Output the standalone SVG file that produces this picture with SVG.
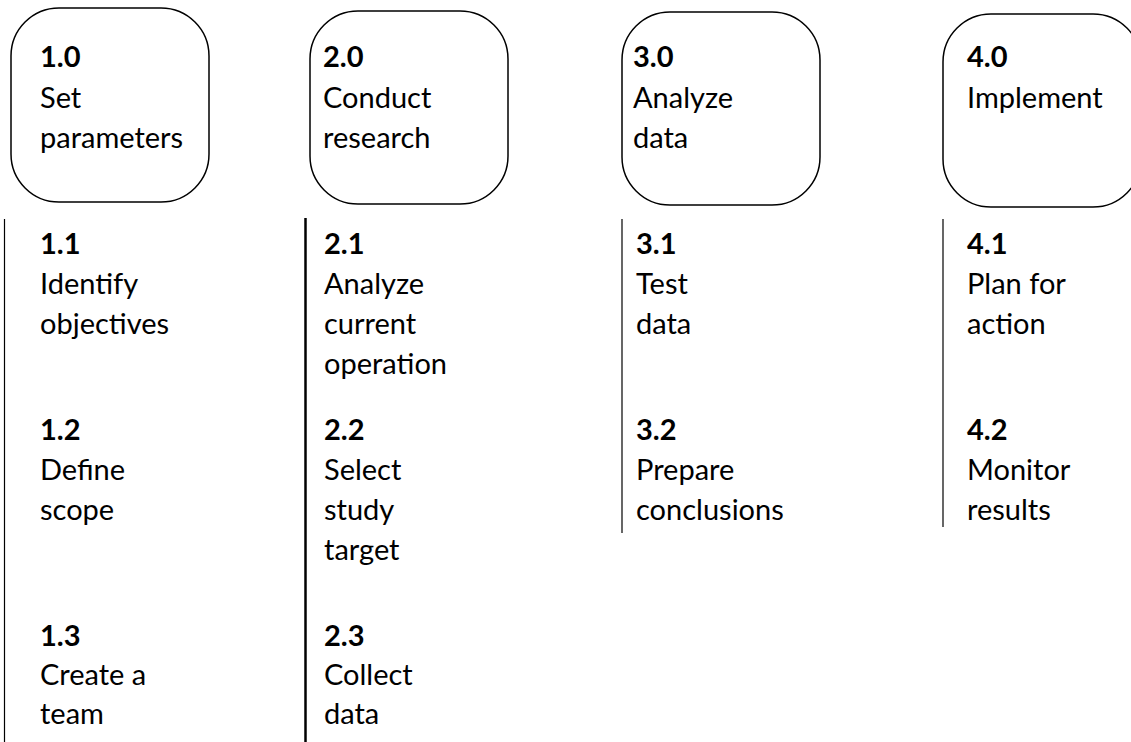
<svg xmlns="http://www.w3.org/2000/svg" width="1131" height="742" viewBox="0 0 1131 742">
  <style>
    .box { fill: #ffffff; stroke: #000000; stroke-width: 1.5; }
    .rule { stroke: #000000; stroke-width: 1.2; fill: none; }
    .rule.heavy { stroke-width: 2.5; }
    text { font-family: Lato, "Liberation Sans", sans-serif; font-size: 29px; fill: #000000; }
    .num { font-weight: 700; }
  </style>
  <rect width="1131" height="742" fill="#ffffff"/>

  <!-- phase headers -->
  <g id="phase-1">
    <rect class="box" x="11" y="8" width="198" height="194" rx="48" ry="48"/>
    <text x="40" y="67" class="num">1.0</text>
    <text x="40" y="108">Set</text>
    <text x="40" y="148">parameters</text>
  </g>
  <g id="phase-2">
    <rect class="box" x="310" y="11" width="198" height="193" rx="48" ry="48"/>
    <text x="323" y="67" class="num">2.0</text>
    <text x="323" y="108">Conduct</text>
    <text x="323" y="148">research</text>
  </g>
  <g id="phase-3">
    <rect class="box" x="622" y="12" width="198" height="193" rx="48" ry="48"/>
    <text x="633" y="67" class="num">3.0</text>
    <text x="633" y="108">Analyze</text>
    <text x="633" y="148">data</text>
  </g>
  <g id="phase-4">
    <rect class="box" x="943" y="14" width="198" height="193" rx="48" ry="48"/>
    <text x="967" y="67" class="num">4.0</text>
    <text x="967" y="108">Implement</text>
  </g>

  <!-- task column rules -->
  <g id="connectors">
    <line class="rule" x1="4.5" y1="219" x2="4.5" y2="742"/>
    <line class="rule heavy" x1="305.5" y1="218" x2="305.5" y2="742"/>
    <line class="rule" x1="622" y1="219" x2="622" y2="533"/>
    <line class="rule" x1="943" y1="219" x2="943" y2="527"/>
  </g>

  <!-- tasks, phase 1 -->
  <g id="task-1-1">
    <text x="40" y="254" class="num">1.1</text>
    <text x="40" y="294">Identify</text>
    <text x="40" y="334">objectives</text>
  </g>
  <g id="task-1-2">
    <text x="40" y="440" class="num">1.2</text>
    <text x="40" y="480">Define</text>
    <text x="40" y="520">scope</text>
  </g>
  <g id="task-1-3">
    <text x="40" y="646" class="num">1.3</text>
    <text x="40" y="685">Create a</text>
    <text x="40" y="724">team</text>
  </g>

  <!-- tasks, phase 2 -->
  <g id="task-2-1">
    <text x="324" y="254" class="num">2.1</text>
    <text x="324" y="294">Analyze</text>
    <text x="324" y="334">current</text>
    <text x="324" y="374">operation</text>
  </g>
  <g id="task-2-2">
    <text x="324" y="440" class="num">2.2</text>
    <text x="324" y="480">Select</text>
    <text x="324" y="520">study</text>
    <text x="324" y="560">target</text>
  </g>
  <g id="task-2-3">
    <text x="324" y="646" class="num">2.3</text>
    <text x="324" y="685">Collect</text>
    <text x="324" y="724">data</text>
  </g>

  <!-- tasks, phase 3 -->
  <g id="task-3-1">
    <text x="636" y="254" class="num">3.1</text>
    <text x="636" y="294">Test</text>
    <text x="636" y="334">data</text>
  </g>
  <g id="task-3-2">
    <text x="636" y="440" class="num">3.2</text>
    <text x="636" y="480">Prepare</text>
    <text x="636" y="520">conclusions</text>
  </g>

  <!-- tasks, phase 4 -->
  <g id="task-4-1">
    <text x="967" y="254" class="num">4.1</text>
    <text x="967" y="294">Plan for</text>
    <text x="967" y="334">action</text>
  </g>
  <g id="task-4-2">
    <text x="967" y="440" class="num">4.2</text>
    <text x="967" y="480">Monitor</text>
    <text x="967" y="520">results</text>
  </g>
</svg>
